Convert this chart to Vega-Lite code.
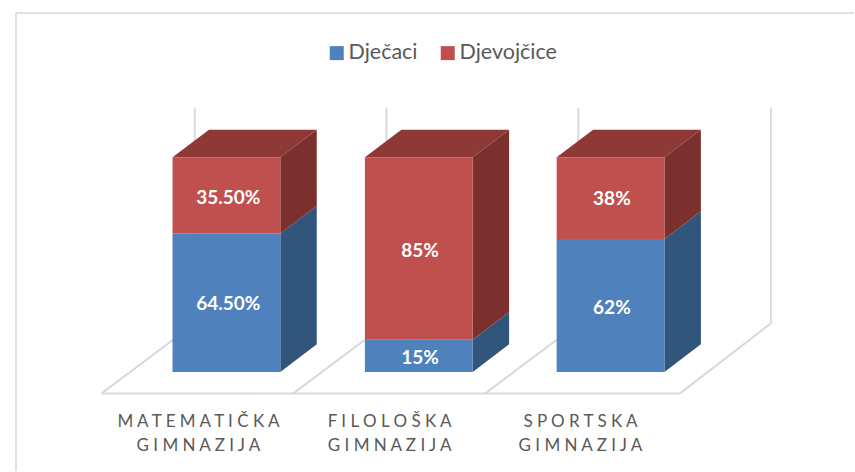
{
"$schema":"https://vega.github.io/schema/vega-lite/v6.json",
"width":855,"height":472,"padding":0,
"autosize":{"type":"fit","contains":"padding"},
"background":"white",
"config":{"view":{"stroke":null}},
"datasets":{
"frame":[
{"x0":-1.097,"x1":-1.097,"y0":167.26,"y1":-46.18},
{"x0":-1.097,"x1":3.2724,"y0":167.26,"y1":167.26}],
"walls":[
{"x0":-0.651,"x1":2.365,"y0":-10,"y1":-10},
{"x0":-0.651,"x1":-0.165,"y0":-10,"y1":22.6},
{"x0":0.349,"x1":0.835,"y0":-10,"y1":22.6},
{"x0":1.35,"x1":1.835,"y0":-10,"y1":22.6},
{"x0":2.365,"x1":2.839,"y0":-10,"y1":22.6},
{"x0":-0.165,"x1":-0.165,"y0":22.6,"y1":123.1},
{"x0":0.835,"x1":0.835,"y0":22.6,"y1":123.1},
{"x0":1.835,"x1":1.835,"y0":22.6,"y1":123.1},
{"x0":2.839,"x1":2.839,"y0":22.6,"y1":123.1}],
"bars":[
{"school":"MATEMATIČKA GIMNAZIJA","series":"Dječaci","x0":-0.281,"x1":0.281,"xc":0.01,"low":0,"high":64.5,"mid":31.5,"label":"64.50%"},
{"school":"MATEMATIČKA GIMNAZIJA","series":"Djevojčice","x0":-0.281,"x1":0.281,"xc":0.01,"low":64.5,"high":100,"mid":81,"label":"35.50%"},
{"school":"FILOLOŠKA GIMNAZIJA","series":"Dječaci","x0":0.722,"x1":1.284,"xc":1.01,"low":0,"high":15,"mid":6.3,"label":"15%"},
{"school":"FILOLOŠKA GIMNAZIJA","series":"Djevojčice","x0":0.722,"x1":1.284,"xc":1.01,"low":15,"high":100,"mid":56.5,"label":"85%"},
{"school":"SPORTSKA GIMNAZIJA","series":"Dječaci","x0":1.722,"x1":2.284,"xc":2.01,"low":0,"high":62,"mid":30,"label":"62%"},
{"school":"SPORTSKA GIMNAZIJA","series":"Djevojčice","x0":1.722,"x1":2.284,"xc":2.01,"low":62,"high":100,"mid":80.5,"label":"38%"}],
"sides":[
{"key":"m-b","series":"Dječaci","u":0.281,"low":0,"high":64.5},
{"key":"m-b","series":"Dječaci","u":0.471,"low":12.9,"high":77.4},
{"key":"m-g","series":"Djevojčice","u":0.281,"low":64.5,"high":100},
{"key":"m-g","series":"Djevojčice","u":0.471,"low":77.4,"high":112.9},
{"key":"f-b","series":"Dječaci","u":1.284,"low":0,"high":15},
{"key":"f-b","series":"Dječaci","u":1.474,"low":12.9,"high":27.9},
{"key":"f-g","series":"Djevojčice","u":1.284,"low":15,"high":100},
{"key":"f-g","series":"Djevojčice","u":1.474,"low":27.9,"high":112.9},
{"key":"s-b","series":"Dječaci","u":2.284,"low":0,"high":62},
{"key":"s-b","series":"Dječaci","u":2.474,"low":12.9,"high":74.9},
{"key":"s-g","series":"Djevojčice","u":2.284,"low":62,"high":100},
{"key":"s-g","series":"Djevojčice","u":2.474,"low":74.9,"high":112.9}],
"tops":[
{"key":"m","level":100,"left":-0.281,"right":0.281},
{"key":"m","level":112.9,"left":-0.091,"right":0.471},
{"key":"f","level":100,"left":0.722,"right":1.284},
{"key":"f","level":112.9,"left":0.912,"right":1.474},
{"key":"s","level":100,"left":1.722,"right":2.284},
{"key":"s","level":112.9,"left":1.912,"right":2.474}],
"names":[
{"line":"M A T E M A T I Č K A","x":-0.146,"y":-23.3},
{"line":"G I M N A Z I J A","x":-0.146,"y":-34.4},
{"line":"F I L O L O Š K A","x":0.851,"y":-23.3},
{"line":"G I M N A Z I J A","x":0.851,"y":-34.4},
{"line":"S P O R T S K A","x":1.846,"y":-23.3},
{"line":"G I M N A Z I J A","x":1.846,"y":-34.4}]
},
"layer":[
{"data":{"name":"frame"},"mark":{"type":"rule","color":"#e0e0e0","strokeWidth":2},
 "encoding":{
 "x":{"field":"x0","type":"quantitative","scale":{"domain":[-1.1807,3.2724],"nice":false,"zero":false},"axis":null},
 "x2":{"field":"x1"},
 "y":{"field":"y0","type":"quantitative","scale":{"domain":[-46.18,173.35],"nice":false,"zero":false},"axis":null},
 "y2":{"field":"y1"}}},
{"data":{"name":"walls"},"mark":{"type":"rule","color":"#d9d9d9","strokeWidth":2},
 "encoding":{
 "x":{"field":"x0","type":"quantitative","axis":null},"x2":{"field":"x1"},
 "y":{"field":"y0","type":"quantitative","axis":null},"y2":{"field":"y1"}}},
{"data":{"name":"sides"},"mark":{"type":"area","orient":"vertical"},
 "encoding":{
 "x":{"field":"u","type":"quantitative","axis":null},
 "y":{"field":"low","type":"quantitative","axis":null,"stack":null},"y2":{"field":"high"},
 "detail":{"field":"key"},
 "color":{"field":"series","type":"nominal","scale":{"domain":["Dječaci","Djevojčice"],"range":["#31557b","#7c302e"]},"legend":null}}},
{"data":{"name":"tops"},"mark":{"type":"area","orient":"horizontal","color":"#8f3937"},
 "encoding":{
 "y":{"field":"level","type":"quantitative","axis":null},
 "x":{"field":"left","type":"quantitative","axis":null,"stack":null},"x2":{"field":"right"},
 "detail":{"field":"key"}}},
{"data":{"name":"bars"},"mark":{"type":"rect"},
 "encoding":{
 "x":{"field":"x0","type":"quantitative","axis":null},"x2":{"field":"x1"},
 "y":{"field":"low","type":"quantitative","axis":null},"y2":{"field":"high"},
 "color":{"field":"series","type":"nominal","scale":{"domain":["Dječaci","Djevojčice"],"range":["#4f81bd","#c0504d"]},
 "legend":{"title":null,"orient":"none","legendX":326,"legendY":42,"direction":"horizontal","symbolType":"square","symbolSize":196,"symbolStrokeWidth":0,"symbolOpacity":1,"labelFont":"Lato","labelFontSize":21.5,"labelColor":"#595959","labelOffset":1,"columnPadding":19}}}},
{"data":{"name":"bars"},"mark":{"type":"text","font":"Lato","fontWeight":"bold","fontSize":19,"color":"white","baseline":"middle","align":"center"},
 "encoding":{
 "x":{"field":"xc","type":"quantitative","axis":null},
 "y":{"field":"mid","type":"quantitative","axis":null},
 "text":{"field":"label"}}},
{"data":{"name":"names"},"mark":{"type":"text","font":"Lato","fontSize":17,"color":"#595959","baseline":"middle","align":"center"},
 "encoding":{
 "x":{"field":"x","type":"quantitative","axis":null},
 "y":{"field":"y","type":"quantitative","axis":null},
 "text":{"field":"line"}}}
],
"resolve":{"scale":{"color":"independent"}}
}
